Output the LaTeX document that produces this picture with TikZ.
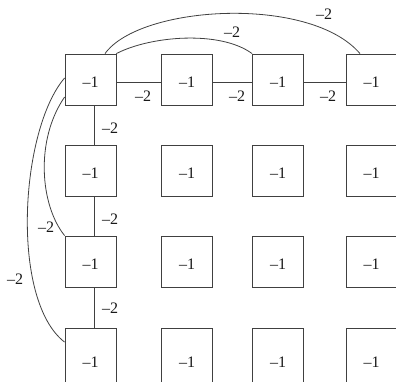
\documentclass[tikz,border=0pt]{standalone}
\usepackage{fontspec}
\setmainfont{Liberation Serif}
\usetikzlibrary{calc}
\begin{document}
\begin{tikzpicture}[x=1pt,y=-1pt,
  cell/.style={draw=black!75, line width=0.8pt, minimum size=51pt, inner sep=0pt,
    font=\fontsize{16}{18}\selectfont, text=black!90, text height=15.5pt, text depth=0pt},
  lastrow/.style={minimum height=58pt, text height=19.5pt},
  wt/.style={font=\fontsize{16}{18}\selectfont, text=black!90, inner sep=0pt},
  link/.style={draw=black!75, line width=0.8pt}]
\clip (0,0) rectangle (396,382);
% grid of cells
\foreach \r/\y in {1/79.5,2/170.5,3/261.5}{
  \foreach \c/\x in {1/90.5,2/187,3/278,4/371.5}{
    \node[cell] (c\r\c) at (\x,\y) {--1};
  }
}
\foreach \c/\x in {1/90.5,2/187,3/278,4/371.5}{
  \node[cell,lastrow] (c4\c) at (\x,357.5) {--1};
}
% horizontal links in first row
\draw[link] ($(c11.east)+(0,2.5)$) -- ($(c12.west)+(0,2.5)$);
\draw[link] ($(c12.east)+(0,2.5)$) -- ($(c13.west)+(0,2.5)$);
\draw[link] ($(c13.east)+(0,2.5)$) -- ($(c14.west)+(0,2.5)$);
% vertical links in first column
\draw[link] ($(c11.south)+(3.5,0)$) -- ($(c21.north)+(3.5,0)$);
\draw[link] ($(c21.south)+(3.5,0)$) -- ($(c31.north)+(3.5,0)$);
\draw[link] ($(c31.south)+(3.5,0)$) -- ($(c41.north)+(3.5,0)$);
% arcs
\draw[link] (c11.north east) .. controls (150,36) and (220,30) .. (c13.north west);
\draw[link] ($(c11.north)+(14.5,0)$) .. controls (140,5) and (310,-5) .. ($(c14.north)+(-11.5,0)$);
\draw[link] ($(c11.west)+(0,17.5)$) .. controls (35,140) and (40,205) .. (c31.north west);
\draw[link] ($(c11.west)+(0,-1.5)$) .. controls (20,130) and (10,300) .. ($(c41.north west)+(0,14)$);
% weights
\node[wt] (h1) at (143,96) {--2};
\node[wt] (h2) at (237,96) {--2};
\node[wt] (h3) at (328,96) {--2};
\node[wt] (v1) at (110,128) {--2};
\node[wt] (v2) at (110,219) {--2};
\node[wt] (v3) at (110,308) {--2};
\node[wt] (a1) at (232,32) {--2};
\node[wt] (a2) at (324,14) {--2};
\node[wt] (a3) at (46,227) {--2};
\node[wt] (a4) at (15,279) {--2};
\end{tikzpicture}
\end{document}
